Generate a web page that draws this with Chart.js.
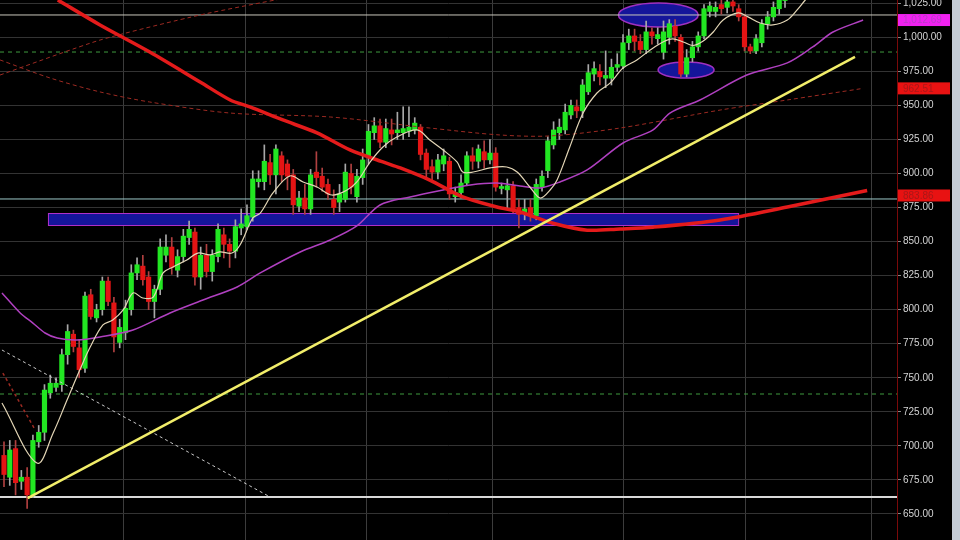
<!DOCTYPE html>
<html><head><meta charset="utf-8">
<script src="https://cdn.jsdelivr.net/npm/chart.js@4.4.0/dist/chart.umd.min.js"></script>
<style>html,body{margin:0;padding:0;background:#000;overflow:hidden}canvas{display:block}</style>
</head><body><canvas id="c" width="960" height="540"></canvas>
<script>
// ---- candle data (daily OHLC, oldest first) ----
const opens  = [693,677,698,674,677,664,703,710,739,743,745,767,782,772,757,811,794,800,821,805,776,783,800,827,832,824,806,815,840,846,829,839,853,857,824,840,828,839,855,848,843,860,861,868,894,894,908,899,913,907,899,876,882,874,901,898,892,881,879,881,900,883,897,912,930,935,923,932,930,930,931,932,934,915,905,901,907,909,883,886,893,913,909,916,910,915,889,888,891,875,871,875,869,890,902,921,930,932,943,949,946,960,973,975,970,970,978,979,996,1001,997,991,1004,999,989,1000,1008,1000,973,985,993,1001,1019,1019,1024,1022,1026,1021,1015,993,990,996,1010,1015,1021,1027];
const highs  = [703,704,704,682,684,708,715,745,752,750,771,789,785,778,813,815,804,824,824,809,793,807,833,838,840,828,818,852,855,853,844,859,865,860,846,848,844,863,860,852,866,874,877,902,902,921,914,921,916,910,903,887,892,903,916,904,896,888,892,907,907,903,918,936,941,940,940,940,945,949,949,941,936,918,910,914,918,912,890,899,916,919,921,924,925,919,893,896,894,881,881,881,896,902,927,938,940,951,954,954,969,980,982,980,990,984,988,1002,1006,1006,1002,1012,1007,1007,1012,1013,1013,1002,991,997,1004,1024,1026,1026,1028,1030,1029,1024,1017,995,1002,1013,1019,1026,1031,1038];
const lows   = [670,671,664,668,654,662,699,704,735,740,740,760,769,750,754,793,791,796,803,769,772,778,796,822,818,800,794,811,835,826,824,835,848,818,815,824,821,835,838,831,838,855,859,865,890,888,892,885,894,888,870,872,870,870,890,887,881,870,872,879,885,879,892,907,925,919,919,921,925,925,927,929,910,897,894,896,902,881,879,882,891,903,904,904,907,887,885,874,871,860,866,865,866,887,897,918,925,929,940,941,941,958,968,965,963,965,975,977,991,990,988,988,995,995,984,995,997,971,971,982,990,999,1015,1015,1017,1018,1019,1012,990,988,988,993,1006,1012,1017,1022];
const closes = [679,697,673,677,664,704,710,741,746,746,767,784,773,756,810,795,800,821,806,780,787,801,827,833,822,806,815,846,846,831,839,854,859,824,840,828,840,859,848,843,861,863,869,896,896,909,899,918,899,898,877,882,874,899,897,890,885,875,885,901,890,898,910,931,935,923,933,929,932,933,934,937,914,903,901,910,913,885,886,893,913,909,918,910,915,890,890,891,874,870,874,870,892,898,924,932,934,945,950,946,965,974,977,971,972,978,980,996,1001,997,991,1004,1001,1002,1004,1010,1001,973,985,993,1001,1021,1023,1022,1021,1026,1023,1015,993,990,999,1010,1015,1022,1028,1035];

// ---- axis ticks / grid breaks (x in trading-day index) ----
const priceTicks = [650,675,700,725,750,775,800,825,850,875,900,925,950,975,1000,1025];
const monthBreaks = [20.6,41.7,62.7,84.5,107.0,128.1,150.0];

// ---- overlay studies ----
const fastMaX = [-0.35,5.7,8.5,10.9,13.1,14.9,17.1,18.8,20.6,22.3,24.0,25.8,27.5,29.2,31.6,33.5,35.6,37.3,39.4,40.8,43.0,44.3,46.5,49.4,51.7,54.1,56.7,59.3,61.0,63.3,65.5,67.9,71.4,73.6,75.9,78.3,79.3,81.1,84.0,86.9,88.7,90.9,92.7,94.4,95.6,97.8,100.1,102.5,104.8,107.0,109.4,111.7,113.9,115.6,117.4,119.1,120.8,122.6,124.3,126.9,128.6,130.7,132.9,135.4,137.1,138.5,139.7];
const fastMaY = [731.5,687.4,709.5,733.7,755.7,772.6,788.8,792.4,799.8,812.3,808.6,809.3,827.0,831.4,836.5,841.6,840.2,842.4,841.6,847.5,867.3,871.0,885.7,898.2,893.8,890.1,884.2,887.9,893.8,908.5,919.5,926.8,932.0,924.6,917.3,908.5,901.1,901.1,904.1,904.8,901.1,890.1,882.0,887.9,895.2,919.5,944.4,959.1,966.5,977.5,983.4,990.7,996.6,998.8,996.6,994.0,997.1,1003.9,1012.7,1017.9,1015.0,1010.5,1009.1,1012.7,1020.1,1027.4,1033.3];
const midMaX = [-0.35,2.8,5.0,7.1,9.2,12.6,16.6,22.3,28.7,34.4,40.3,44.3,51.2,56.4,61.0,65.0,70.2,75.9,80.6,85.2,89.2,92.7,96.1,100.8,107.0,112.2,115.1,120.3,128.4,135.4,139.8,143.3,148.5];
const midMaY = [812.3,797.6,790.2,782.9,779.2,777.8,780.0,785.1,797.6,807.1,816.7,827.0,842.4,851.2,861.5,876.9,882.8,887.9,891.6,893.0,890.8,889.4,893.8,902.6,922.4,932.0,944.4,954.0,972.3,981.2,992.9,1003.9,1012.7];
const slowMaX = [9.3,16.6,25.2,33.9,39.1,42.5,48.2,54.1,59.8,65.5,68.5,73.6,79.3,85.2,89.2,94.9,100.8,106.5,112.2,123.8,135.4,149.2];
const slowMaY = [1027.4,1009.1,989.2,967.2,954.0,948.9,939.3,929.8,917.3,908.5,904.1,895.2,882.8,875.4,871.7,863.5,858.4,859.3,860.6,865.9,875.4,887.5];
const dashMaX = [-0.7,8.0,16.6,25.2,39.1,56.4,73.6,85.7,94.4,106.5,123.8,135.4,148.5];
const dashMaY = [983.4,970.1,959.9,952.5,944.4,941.5,933.4,928.3,927.6,933.4,946.6,954.0,962.5];
const dashUpX = [-0.7,16.6,33.9,51.2];
const dashUpY = [972.3,998.0,1016.4,1031.0];
const dashLowX = [-0.2,5.4];
const dashLowY = [753.5,711.7];
const downTrendX = [-0.35,46.0];
const downTrendY = [770.4,662.5];
const upTrendX = [4.1,147.1];
const upTrendY = [661.7,985.6];
const levelResist = 1016.4, levelGreenHi = 989.2, levelCyan = 881.3, levelGreenLo = 738.1, levelLow = 662.5;
const zoneBox = {from:7.6, to:126.9, low:862.2, high:871.0};
const ellipseCX = [113.1,117.9], ellipseCY = [1016.4,976.0], ellipseRX = [6.9,4.84], ellipseRY = [8.8,5.9];
const priceTags = [1012.69, 962.51, 883.86];
const priceTagText = ['1,012.69','962.51','883.86'];

const X_MIN = -0.69, X_MAX = 154.36;
const pts = (xs, ys) => xs.map((x,i)=>({x, y: ys[i]}));
const flat = v => [{x:X_MIN,y:v},{x:X_MAX,y:v}];
const idx = opens.map((_,i)=>i);
const up = idx.map(i => closes[i] >= opens[i]);

const lineDs = (data, color, width, dash, tension) => ({
  type:'line', data, borderColor:color, borderWidth:width, borderDash:dash||[],
  pointRadius:0, tension: tension||0, fill:false
});

const datasets = [
  lineDs(pts(fastMaX,fastMaY), '#e3d6b6', 1.2, null, 0.35),
  lineDs(pts(upTrendX,upTrendY), '#f2ee6a', 2.5),
  lineDs(pts(slowMaX,slowMaY), '#e41b1b', 3.5, null, 0.3),
  lineDs(pts(midMaX,midMaY), '#b040c0', 1.5, null, 0.3),
  lineDs(pts(dashMaX,dashMaY), '#9c2a22', 1, [4,3], 0.3),
  lineDs(pts(dashUpX,dashUpY), '#9c2a22', 1, [4,3], 0.2),
  lineDs(pts(dashLowX,dashLowY), '#9c2a22', 1.5, [3,3]),
  lineDs(pts(downTrendX,downTrendY), '#c8c8c8', 1, [3,3]),
  {type:'bar', data: idx.map(i=>({x:i, y:[opens[i],closes[i]]})), grouped:false, barThickness:4.5, minBarLength:2,
   backgroundColor: idx.map(i=> up[i] ? '#22e622' : '#e41414'), borderWidth:0},
  {type:'bar', data: idx.map(i=>({x:i, y:[lows[i],highs[i]]})), grouped:false, barThickness:1,
   backgroundColor: idx.map(i=> up[i] ? '#a8a8a8' : '#b04040'), borderWidth:0},
  lineDs(flat(levelResist), '#c9c6bc', 1),
  lineDs(flat(levelGreenHi), '#3f9a3f', 1, [4,4]),
  lineDs(flat(levelCyan), '#9cc8c8', 1),
  lineDs(flat(levelGreenLo), '#3f9a3f', 1, [4,4]),
  lineDs(flat(levelLow), '#d8d8d8', 2),
];

const decor = {
  id:'decor',
  beforeDraw(chart){
    const c = chart.ctx; c.save(); c.fillStyle='#000'; c.fillRect(0,0,chart.width,chart.height); c.restore();
  },
  beforeDatasetsDraw(chart){
    const c = chart.ctx, xs = chart.scales.x, ys = chart.scales.y, a = chart.chartArea;
    c.save();
    c.beginPath(); c.rect(a.left,a.top,a.right-a.left,a.bottom-a.top); c.clip();
    const x1 = xs.getPixelForValue(zoneBox.from), x2 = xs.getPixelForValue(zoneBox.to);
    const y1 = ys.getPixelForValue(zoneBox.high), y2 = ys.getPixelForValue(zoneBox.low);
    c.fillStyle = '#15159a'; c.fillRect(x1,y1,x2-x1,y2-y1);
    c.strokeStyle = '#b030c8'; c.lineWidth = 1; c.strokeRect(x1+0.5,y1+0.5,x2-x1,y2-y1);
    for (let k=0;k<ellipseCX.length;k++){
      const cx = xs.getPixelForValue(ellipseCX[k]), cy = ys.getPixelForValue(ellipseCY[k]);
      const rx = Math.abs(xs.getPixelForValue(ellipseCX[k]+ellipseRX[k]) - cx);
      const ry = Math.abs(ys.getPixelForValue(ellipseCY[k]+ellipseRY[k]) - cy);
      c.beginPath(); c.ellipse(cx,cy,rx,ry,0,0,Math.PI*2);
      c.fillStyle='#15159a'; c.fill(); c.strokeStyle='#a030c0'; c.lineWidth=1.5; c.stroke();
    }
    c.restore();
  },
  afterDraw(chart){
    const c = chart.ctx, ys = chart.scales.y, a = chart.chartArea;
    c.save();
    const fills = ['#f022f0','#e81212','#e81212'], texts = ['#b83cc8','#a81818','#a81818'];
    c.font = '10px "Liberation Sans", Arial, sans-serif'; c.textBaseline='middle'; c.textAlign='left';
    priceTags.forEach((v,k)=>{
      const y = ys.getPixelForValue(v);
      c.fillStyle = fills[k]; c.fillRect(a.right+1, y-6, 52, 12);
      c.fillStyle = texts[k]; c.fillText(priceTagText[k], a.right+6, y+0.5);
    });
    c.fillStyle = '#c4ccd6'; c.fillRect(chart.width-8, 0, 8, chart.height);
    c.restore();
  }
};

new Chart(document.getElementById('c'), {
  type:'bar',
  data:{ datasets },
  options:{
    responsive:false, animation:false, devicePixelRatio:1,
    layout:{padding:0},
    plugins:{legend:{display:false}, tooltip:{enabled:false}},
    scales:{
      x:{ type:'linear', min:X_MIN, max:X_MAX, offset:false,
          afterBuildTicks: s => { s.ticks = monthBreaks.map(v=>({value:v})); },
          afterFit: s => { s.height = 0; s.paddingLeft = 0; s.paddingRight = 0; s.paddingTop = 0; s.paddingBottom = 0; },
          ticks:{display:false}, border:{display:false},
          grid:{color:'#3c3c3c', drawTicks:false, offset:false} },
      y:{ position:'right', min:630.9, max:1027.4,
          afterBuildTicks: s => { s.ticks = priceTicks.map(v=>({value:v})); },
          afterFit: s => { s.width = 63; s.paddingTop = 0; s.paddingBottom = 0; s.paddingLeft = 0; s.paddingRight = 0; },
          ticks:{ color:'#d4d4d4', padding:2, font:{family:'"Liberation Sans", Arial, sans-serif', size:10},
                  callback: v => Number(v).toLocaleString('en-US',{minimumFractionDigits:2, maximumFractionDigits:2}) },
          grid:{ color:'#333333', tickLength:4, tickColor:'#888', offset:false },
          border:{ color:'#7a0a0a', width:1 } }
    }
  },
  plugins:[decor]
});
</script>
</body></html>
